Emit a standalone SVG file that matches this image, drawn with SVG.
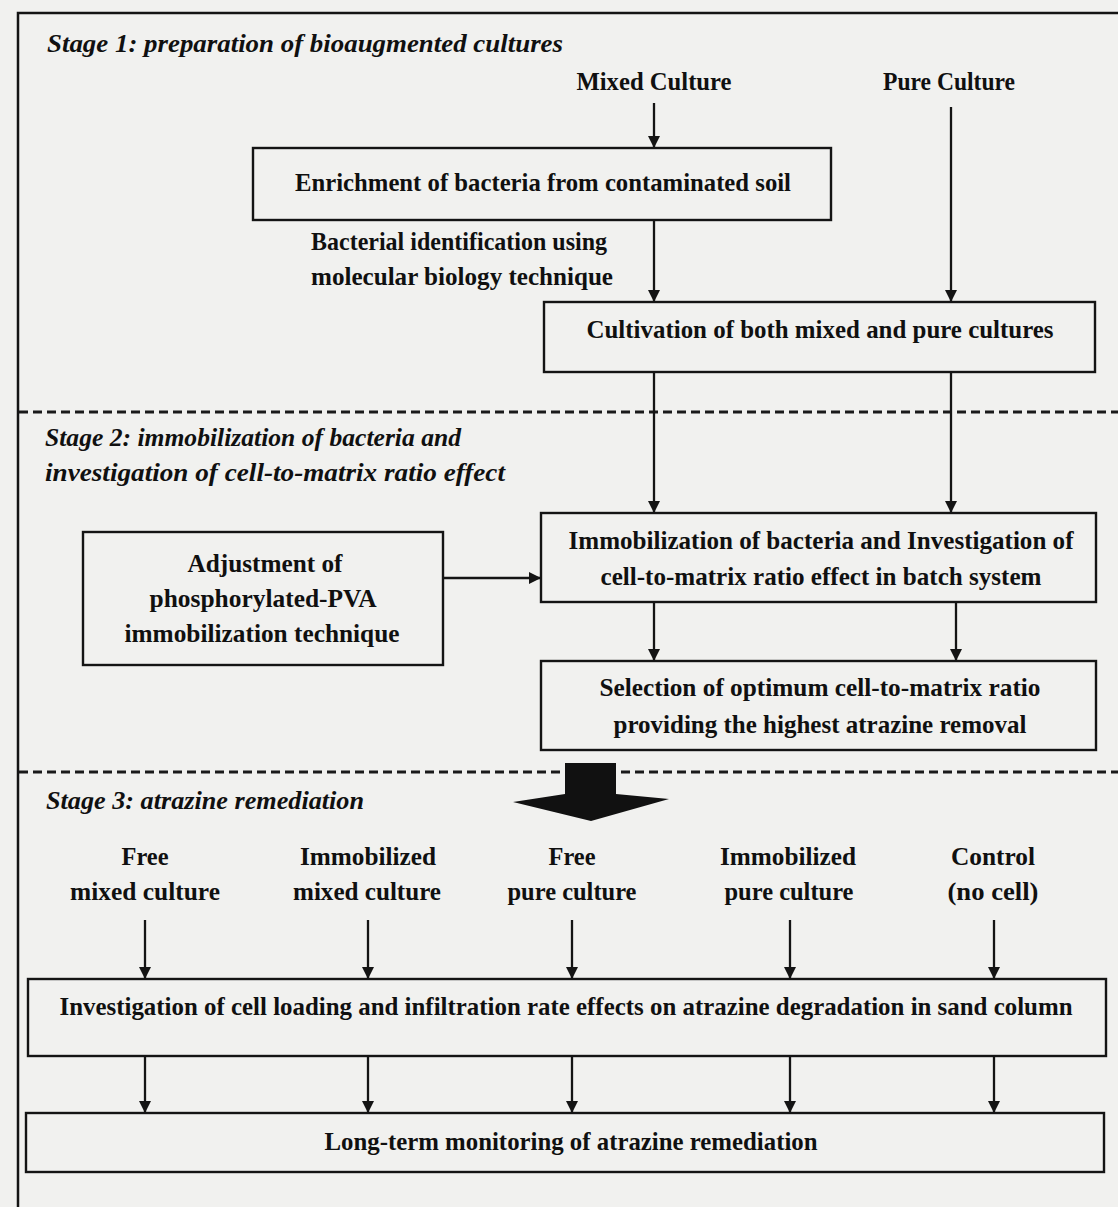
<svg xmlns="http://www.w3.org/2000/svg" width="1118" height="1207" viewBox="0 0 1118 1207">
<style>
text{font-family:"Liberation Serif","Times New Roman",serif;font-weight:bold;font-size:24.5px;fill:#101010;text-anchor:middle}
text.title{font-style:italic;font-size:25px;text-anchor:start}
.box{fill:none;stroke:#141414;stroke-width:2.4}
.conn line{stroke:#141414;stroke-width:2.3;marker-end:url(#ah)}
.dash{stroke:#1a1a1a;stroke-width:3;stroke-dasharray:9 5}
</style>
<defs>
<marker id="ah" viewBox="0 0 12 14" refX="12" refY="7" markerWidth="12" markerHeight="14" markerUnits="userSpaceOnUse" orient="auto">
<path d="M0,1 L12,7 L0,13 Z" fill="#141414"/>
</marker>
</defs>
<rect x="0" y="0" width="1118" height="1207" fill="#f1f1ef"/>
<rect x="18" y="13" width="1115" height="1215" fill="none" stroke="#141414" stroke-width="2.5"/>
<line class="dash" x1="19" y1="412" x2="1118" y2="412"/>
<line class="dash" x1="19" y1="772" x2="1118" y2="772"/>

<g id="stage1-title"><text class="title" x="47" y="52" textLength="516" lengthAdjust="spacingAndGlyphs">Stage 1: preparation of bioaugmented cultures</text></g>
<g id="stage2-title"><text class="title" x="45" y="446" textLength="416" lengthAdjust="spacingAndGlyphs">Stage 2: immobilization of bacteria and</text><text class="title" x="45" y="481" textLength="460" lengthAdjust="spacingAndGlyphs">investigation of cell-to-matrix ratio effect</text></g>
<g id="stage3-title"><text class="title" x="46" y="809" textLength="318" lengthAdjust="spacingAndGlyphs">Stage 3: atrazine remediation</text></g>

<g id="mixed-culture"><text x="654" y="90" textLength="155" lengthAdjust="spacingAndGlyphs">Mixed Culture</text></g>
<g id="pure-culture"><text x="949" y="90" textLength="132" lengthAdjust="spacingAndGlyphs">Pure Culture</text></g>

<g id="enrichment"><rect class="box" x="253" y="148" width="578" height="72"/><text x="543" y="191" textLength="496" lengthAdjust="spacingAndGlyphs">Enrichment of bacteria from contaminated soil</text></g>

<g id="identification-label"><text x="459" y="250" textLength="296" lengthAdjust="spacingAndGlyphs">Bacterial identification using</text><text x="462" y="285" textLength="302" lengthAdjust="spacingAndGlyphs">molecular biology technique</text></g>

<g id="cultivation"><rect class="box" x="544" y="302" width="551" height="70"/><text x="820" y="338" textLength="467" lengthAdjust="spacingAndGlyphs">Cultivation of both mixed and pure cultures</text></g>

<g id="immobilization"><rect class="box" x="541" y="513" width="555" height="89"/><text x="821" y="549" textLength="505" lengthAdjust="spacingAndGlyphs">Immobilization of bacteria and Investigation of</text><text x="821" y="585" textLength="441" lengthAdjust="spacingAndGlyphs">cell-to-matrix ratio effect in batch system</text></g>

<g id="adjustment"><rect class="box" x="83" y="532" width="360" height="133"/><text x="265" y="572" textLength="155" lengthAdjust="spacingAndGlyphs">Adjustment of</text><text x="263" y="607" textLength="227" lengthAdjust="spacingAndGlyphs">phosphorylated-PVA</text><text x="262" y="642" textLength="275" lengthAdjust="spacingAndGlyphs">immobilization technique</text></g>

<g id="selection"><rect class="box" x="541" y="661" width="555" height="89"/><text x="820" y="696" textLength="441" lengthAdjust="spacingAndGlyphs">Selection of optimum cell-to-matrix ratio</text><text x="820" y="733" textLength="413" lengthAdjust="spacingAndGlyphs">providing the highest atrazine removal</text></g>

<g id="free-mixed"><text x="145" y="865" textLength="47" lengthAdjust="spacingAndGlyphs">Free</text><text x="145" y="900" textLength="150" lengthAdjust="spacingAndGlyphs">mixed culture</text></g>
<g id="immobilized-mixed"><text x="368" y="865" textLength="136" lengthAdjust="spacingAndGlyphs">Immobilized</text><text x="367" y="900" textLength="148" lengthAdjust="spacingAndGlyphs">mixed culture</text></g>
<g id="free-pure"><text x="572" y="865" textLength="47" lengthAdjust="spacingAndGlyphs">Free</text><text x="572" y="900" textLength="129" lengthAdjust="spacingAndGlyphs">pure culture</text></g>
<g id="immobilized-pure"><text x="788" y="865" textLength="136" lengthAdjust="spacingAndGlyphs">Immobilized</text><text x="789" y="900" textLength="129" lengthAdjust="spacingAndGlyphs">pure culture</text></g>
<g id="control"><text x="993" y="865" textLength="84" lengthAdjust="spacingAndGlyphs">Control</text><text x="993" y="900" textLength="91" lengthAdjust="spacingAndGlyphs">(no cell)</text></g>

<g id="column-investigation"><rect class="box" x="28" y="979" width="1078" height="77"/><text x="566" y="1015" textLength="1013" lengthAdjust="spacingAndGlyphs">Investigation of cell loading and infiltration rate effects on atrazine degradation in sand column</text></g>

<g id="long-term"><rect class="box" x="26" y="1113" width="1078" height="59"/><text x="571" y="1150" textLength="493" lengthAdjust="spacingAndGlyphs">Long-term monitoring of atrazine remediation</text></g>

<g id="connectors" class="conn">
<line x1="654" y1="103" x2="654" y2="148"/>
<line x1="654" y1="220" x2="654" y2="302"/>
<line x1="951" y1="107" x2="951" y2="302"/>
<line x1="654" y1="372" x2="654" y2="513"/>
<line x1="951" y1="372" x2="951" y2="513"/>
<line x1="443" y1="578" x2="541" y2="578"/>
<line x1="654" y1="602" x2="654" y2="661"/>
<line x1="956" y1="602" x2="956" y2="661"/>
<line x1="145" y1="920" x2="145" y2="979"/>
<line x1="368" y1="920" x2="368" y2="979"/>
<line x1="572" y1="920" x2="572" y2="979"/>
<line x1="790" y1="920" x2="790" y2="979"/>
<line x1="994" y1="920" x2="994" y2="979"/>
<line x1="145" y1="1056" x2="145" y2="1113"/>
<line x1="368" y1="1056" x2="368" y2="1113"/>
<line x1="572" y1="1056" x2="572" y2="1113"/>
<line x1="790" y1="1056" x2="790" y2="1113"/>
<line x1="994" y1="1056" x2="994" y2="1113"/>
<polygon points="565,763 616,763 616,794 669,799 591,821 513,802 565,794" fill="#111"/>
</g>
</svg>
